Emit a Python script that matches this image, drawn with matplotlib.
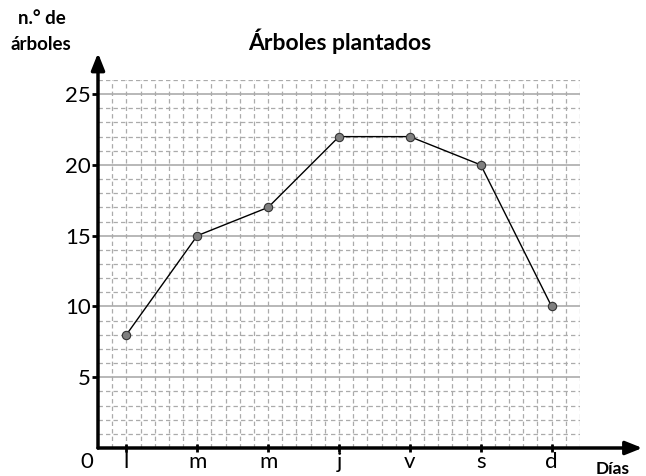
import matplotlib.pyplot as plt

# data
dias = ["l", "m", "m", "j", "v", "s", "d"]
arboles = [8, 15, 17, 22, 22, 20, 10]
y_ticks = [5, 10, 15, 20, 25]

plt.rcParams['font.family'] = ['Lato', 'DejaVu Sans']

fig = plt.figure(figsize=(6.46, 4.76), dpi=100)
ax = fig.add_axes([98 / 646, 28 / 476, 482 / 646, 368 / 476])

# grid in "cell" units: days sit every 5 cells starting at cell 2
xpos = [2 + 5 * i for i in range(len(dias))]
ax.set_xlim(0, 34)
ax.set_ylim(0, 26)

grid_col = "#ababab"
for x in range(1, 35):
    ax.axvline(x, color=grid_col, lw=0.9, ls=(0, (3.5, 2.5)), zorder=1)
for y in range(1, 27):
    if y % 5 == 0:
        ax.axhline(y, color=grid_col, lw=1.2, zorder=1)
    else:
        ax.axhline(y, color=grid_col, lw=0.9, ls=(0, (3.5, 2.5)), zorder=1)

ax.plot(xpos, arboles, color="black", lw=1, zorder=3)
ax.plot(xpos, arboles, ls="none", marker="o", ms=6, mfc="#7f7f7f",
        mec="#333333", mew=0.8, zorder=4)

# axes drawn as arrows
for s in ax.spines.values():
    s.set_visible(False)
ax.annotate("", xy=(0, 27.9), xytext=(0, 0), annotation_clip=False,
            arrowprops=dict(arrowstyle="-|>,head_length=1.0,head_width=0.4",
                            color="black", lw=2.5, shrinkA=0, shrinkB=0))
ax.annotate("", xy=(38.4, 0), xytext=(0, 0), annotation_clip=False,
            arrowprops=dict(arrowstyle="-|>,head_length=1.0,head_width=0.4",
                            color="black", lw=2.5, shrinkA=0, shrinkB=0))

ax.set_xticks(xpos)
ax.set_xticklabels(dias, fontsize=16)
ax.set_yticks(y_ticks)
ax.set_yticklabels([str(v) for v in y_ticks], fontsize=16)
ax.tick_params(axis="x", direction="inout", length=6, width=2, pad=0)
ax.tick_params(axis="y", direction="out", length=4, width=2, pad=1)

ax.text(-0.3, -0.3, "0", fontsize=16, ha="right", va="top")
ax.text(36.3, -0.9, "Días", fontsize=12.5, fontweight="bold",
        ha="center", va="top")

fig.text(339.5 / 646, 1 - 41 / 476, "Árboles plantados", fontsize=16.5,
         fontweight="bold", ha="center", va="center")
fig.text(42 / 646, 1 - 18 / 476, "n.° de", fontsize=13.5, fontweight="bold",
         ha="center", va="center")
fig.text(41 / 646, 1 - 44 / 476, "árboles", fontsize=13.5, fontweight="bold",
         ha="center", va="center")

fig.savefig("out.png", dpi=100)
